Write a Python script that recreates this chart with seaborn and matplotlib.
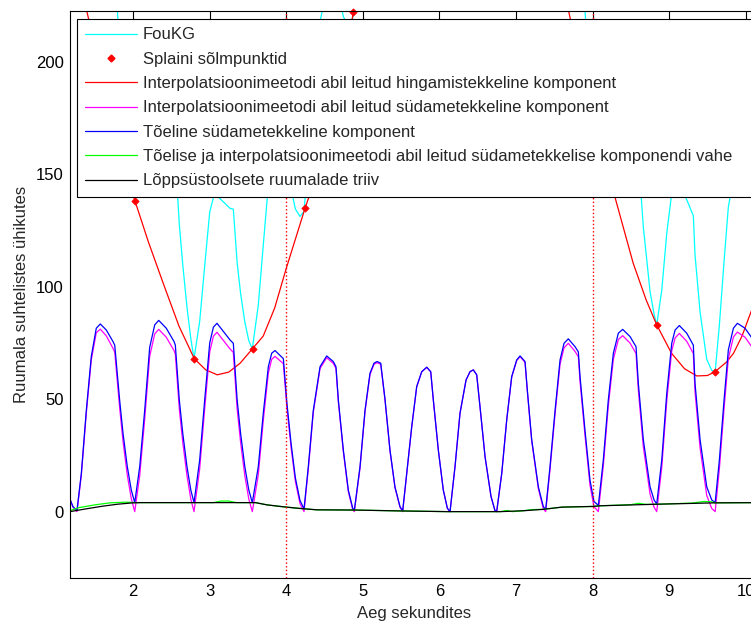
import matplotlib
matplotlib.use("Agg")
import matplotlib.pyplot as plt
from matplotlib.lines import Line2D
import seaborn as sns

# ---------------- data ----------------
t_heart = [1.178, 1.217, 1.269, 1.326, 1.391, 1.456, 1.521, 1.574, 1.652, 1.739,
           1.762, 1.826, 1.870, 1.926, 1.978, 2.023, 2.088, 2.153, 2.218, 2.284,
           2.336, 2.435, 2.536, 2.553, 2.605, 2.650, 2.705, 2.755, 2.797, 2.871,
           2.936, 3.002, 3.050, 3.097, 3.136, 3.267, 3.310, 3.360, 3.405, 3.460,
           3.512, 3.558, 3.636, 3.701, 3.767, 3.811, 3.854, 3.963, 4.010, 4.065,
           4.120, 4.180, 4.233, 4.289, 4.354, 4.442, 4.529, 4.615, 4.650, 4.681,
           4.746, 4.811, 4.869, 4.890, 4.964, 5.029, 5.094, 5.147, 5.186, 5.234,
           5.290, 5.355, 5.420, 5.486, 5.521, 5.574, 5.639, 5.704, 5.769, 5.835,
           5.887, 5.921, 5.986, 6.051, 6.104, 6.139, 6.204, 6.269, 6.348, 6.400,
           6.443, 6.487, 6.530, 6.596, 6.674, 6.726, 6.748, 6.814, 6.879, 6.944,
           7.009, 7.053, 7.118, 7.148, 7.205, 7.292, 7.357, 7.388, 7.444, 7.510,
           7.575, 7.627, 7.683, 7.771, 7.814, 7.836, 7.901, 7.966, 8.018, 8.075,
           8.140, 8.205, 8.271, 8.336, 8.393, 8.489, 8.567, 8.597, 8.662, 8.750,
           8.802, 8.837, 8.903, 8.968, 9.033, 9.077, 9.132, 9.229, 9.315, 9.337,
           9.403, 9.490, 9.555, 9.600, 9.655, 9.716, 9.772, 9.838, 9.890, 9.990,
           10.068, 10.12]

true_heart = [5.5, 2.2, 0.5, 17, 45, 69, 81.5, 83.4, 80.7, 75.6,
              74, 49.6, 34.8, 20, 9.6, 4, 20, 45, 73, 83,
              85, 81.5, 75.6, 74, 49.6, 34.8, 20, 9.6, 4, 23,
              49.6, 75, 82, 83.7, 82, 76.3, 74.8, 49.6, 34.8, 20,
              9.6, 4, 20, 43.7, 64.4, 70.4, 71.6, 68, 48, 30,
              15, 5, 1.2, 20, 45, 64.4, 69.2, 66.7, 64.4, 49.6,
              27.4, 9.6, 1.5, 0.7, 20, 45, 61.5, 66, 66.7, 66,
              50, 27.4, 11, 2.2, 0.4, 17, 37.8, 55.6, 62.2, 64.2,
              62.2, 49.6, 27.4, 9.6, 1.5, 0, 20, 43.7, 58.5, 62.2,
              63, 60.8, 46.7, 24.4, 6.7, 0.4, 0, 17, 40.8, 60,
              67.4, 69.2, 66.7, 54, 32, 11, 2.2, 1, 20, 45,
              67.4, 74.8, 76.8, 73.3, 71, 60, 36, 14, 4.5, 2.8,
              23, 49.6, 70.4, 79.3, 81, 77.8, 73.3, 57, 32, 11,
              5.2, 3.4, 23, 52.6, 74.8, 80.7, 82.7, 79.3, 74, 57,
              32, 11, 5.2, 4, 23, 49.6, 71.9, 81.5, 83.7, 81.5,
              77.8, 75]

interp_heart = [5.5, 2.0, 0, 16.2, 43.8, 67.4, 79.5, 81.1, 78.1, 72.6,
                70.9, 46.2, 31.2, 16.2, 5.8, 0, 16, 41, 69, 79,
                81, 77.5, 71.6, 70, 45.6, 30.8, 16, 5.6, 0, 19,
                45.6, 71, 78, 79.7, 78, 72.3, 70.8, 45.6, 30.8, 16,
                5.6, 0, 16.4, 40.4, 61.5, 67.7, 69, 65.8, 46, 28.2,
                13.4, 3.6, 0, 18.9, 44.1, 63.6, 68.4, 65.9, 63.6, 48.8,
                26.7, 8.9, 0.8, 0, 19.4, 44.4, 60.9, 65.5, 66.2, 65.5,
                49.6, 27, 10.7, 1.9, 0, 16.8, 37.6, 55.4, 62.1, 64.1,
                62.1, 49.5, 27.4, 9.6, 1.5, 0, 20, 43.7, 58.5, 62.2,
                63, 60.8, 46.7, 24.4, 6.7, 0.4, 0, 17, 40.8, 59.8,
                67.1, 68.9, 66.3, 53.5, 31.4, 10.2, 1.2, 0, 18.7, 43.4,
                65.5, 72.8, 74.8, 71.2, 68.8, 57.8, 33.8, 11.7, 2.2, 0,
                20.4, 46.9, 67.7, 76.5, 78.2, 74.9, 70.3, 54, 28.9, 7.8,
                2, 0, 19.7, 49.2, 71.4, 77.2, 79.2, 75.7, 70.3, 53.3,
                28.3, 7.2, 1.4, 0, 19.1, 45.7, 68, 77.6, 79.8, 77.5,
                73.8, 71]

t_fou = [1.178, 1.217, 1.269, 1.326, 1.391, 1.456, 1.521, 1.574, 1.652, 1.739,
         1.762, 1.826, 1.870, 1.926, 1.978, 2.023, 2.088, 2.153, 2.218, 2.284,
         2.336, 2.435, 2.536, 2.553, 2.605, 2.650, 2.705, 2.755, 2.797, 2.871,
         2.936, 3.002, 3.050, 3.097, 3.136, 3.267, 3.310, 3.360, 3.405, 3.460,
         3.512, 3.558, 3.636, 3.701, 3.767, 3.811, 3.854, 3.963, 4.010, 4.065,
         4.120, 4.180, 4.233, 4.289, 4.354, 4.442, 4.529, 4.615, 4.650, 4.681,
         4.746, 4.811, 4.869, 4.890, 4.964, 5.029, 5.186, 5.521, 5.835, 6.139,
         6.443, 6.748, 7.053, 7.388, 7.575, 7.683, 7.771, 7.814, 7.836, 7.901,
         7.966, 8.018, 8.075, 8.140, 8.205, 8.271, 8.336, 8.393, 8.489, 8.567,
         8.597, 8.662, 8.750, 8.802, 8.837, 8.903, 8.968, 9.033, 9.077, 9.132,
         9.229, 9.315, 9.337, 9.403, 9.490, 9.555, 9.600, 9.655, 9.716, 9.772,
         9.838, 9.890, 9.990, 10.068, 10.12]

fou = [265.5, 256, 245, 251, 267, 281, 284, 278, 263.6, 245.6,
       241, 207, 187, 165.7, 149.3, 138.5, 147.6, 165.9, 187.1, 190.7,
       188, 175.3, 160, 156.8, 127.7, 109.7, 90.9, 76.9, 68, 84.6,
       109.1, 133.2, 139.5, 140.5, 139.1, 134.8, 134.4, 110.6, 97, 84.3,
       76, 72.3, 91.8, 118.4, 145.1, 154.9, 159.8, 169.5, 155.1, 143.3,
       134.5, 131.2, 133.4, 158, 189.6, 217.8, 231.9, 239.7, 241.6, 231.5,
       220, 215.6, 219.5, 222.5, 257, 295, 348, 330, 421, 365,
       421, 340, 379, 268, 305, 298, 280, 271, 256.4, 222.3,
       191.7, 174.9, 165, 177.9, 196.8, 209.9, 210.8, 205.5, 190.4, 177.1,
       157.9, 126.6, 97.8, 87.8, 83, 98.4, 123.7, 141.6, 145.7, 145.5,
       138.6, 131.5, 114.1, 88.7, 67.7, 62.8, 62.2, 82.9, 111.2, 135.4,
       147.9, 153.7, 159.2, 162.6, 165]

t_resp = [1.178, 1.27, 1.40, 1.60, 1.80, 2.027, 2.20, 2.40, 2.60, 2.80,
          2.95, 3.10, 3.25, 3.40, 3.563, 3.70, 3.85, 4.00, 4.246, 4.50,
          4.65, 4.73, 4.876, 5.20, 5.52, 5.80, 6.14, 6.45, 6.75, 7.05,
          7.39, 7.69, 7.89, 8.075, 8.29, 8.53, 8.70, 8.837, 9.03, 9.20,
          9.36, 9.50, 9.598, 9.75, 9.84, 9.95, 10.07, 10.20]
resp = [260, 245, 222, 193, 164.5, 138, 120, 101, 82.5, 68,
        63, 60.8, 62, 66, 72.5, 78, 90.5, 108, 134.8, 160,
        178, 190, 222, 285, 330, 355, 365, 358, 340, 310,
        268, 222, 190, 165, 140, 110.4, 94, 83, 70.4, 63.5,
        60.3, 60.5, 62.2, 66.5, 70.4, 78, 89, 101]

knot_t = [1.27, 2.027, 2.80, 3.563, 4.246, 4.876, 5.52, 6.14, 6.75, 7.39, 8.075, 8.837, 9.598]
knot_v = [245, 138, 68, 72.5, 134.8, 222, 330, 365, 340, 268, 165, 83, 62.2]

t_diff = [1.178, 1.3, 1.5, 1.7, 1.9, 2.05, 2.8, 3.05, 3.15, 3.25, 3.35, 3.6, 3.75,
          3.95, 4.15, 4.4, 4.9, 5.5, 6.1, 6.8, 6.88, 6.95, 7.1, 7.2, 7.35, 7.6,
          8.0, 8.1, 8.5, 8.6, 8.7, 8.85, 9.3, 9.45, 9.55, 9.6, 10.2]
diff = [0.5, 1.8, 3.0, 3.9, 4.2, 4.0, 4.0, 4.0, 4.7, 4.7, 4.0, 4.0, 3.0,
        2.2, 1.5, 0.8, 0.7, 0.3, 0, 0, 0.5, 0, 0.4, 0.9, 1.0, 2.0,
        2.3, 2.6, 3.1, 3.7, 3.2, 3.3, 3.8, 4.5, 4.4, 3.9, 4.0]

t_drift = [1.178, 1.4, 1.6, 1.8, 2.0, 2.1, 3.6, 3.75, 3.95, 4.15, 4.4, 4.9,
           5.5, 6.1, 6.8, 7.1, 7.35, 7.6, 8.0, 8.1, 8.85, 9.6, 10.2]
drift = [0, 1.3, 2.4, 3.3, 3.9, 4, 4, 3, 2.2, 1.5, 0.8, 0.7,
         0.3, 0, 0, 0.4, 1, 2, 2.3, 2.6, 3.3, 3.9, 4]

marker_lines = [4, 8]
x_ticks = [2, 3, 4, 5, 6, 7, 8, 9, 10]
y_ticks = [0, 50, 100, 150, 200]

labels = ["FouKG",
          "Splaini sõlmpunktid",
          "Interpolatsioonimeetodi abil leitud hingamistekkeline komponent",
          "Interpolatsioonimeetodi abil leitud südametekkeline komponent",
          "Tõeline südametekkeline komponent",
          "Tõelise ja interpolatsioonimeetodi abil leitud südametekkelise komponendi vahe",
          "Lõppsüstoolsete ruumalade triiv"]
colors = ["#00ffff", "#ff0000", "#ff0000", "#ff00ff", "#0000ff", "#00ff00", "#000000"]

# ---------------- drawing ----------------
sns.set_style("white")
plt.rcParams["font.family"] = ["Liberation Sans", "DejaVu Sans"]
FS = 12
plt.rcParams["font.size"] = FS

W, H = 751, 625
fig = plt.figure(figsize=(W / 100, H / 100), dpi=100)
ax = fig.add_axes([70 / W, 47 / H, 687.3 / W, 567 / H])

LW = 0.9
sns.lineplot(x=t_fou, y=fou, ax=ax, color=colors[0], lw=LW, estimator=None, sort=False)
sns.scatterplot(x=knot_t, y=knot_v, ax=ax, color=colors[1], marker="D", s=14,
                edgecolor=colors[1], linewidth=0.5, clip_on=False, zorder=2.5)
sns.lineplot(x=t_resp, y=resp, ax=ax, color=colors[2], lw=LW, estimator=None, sort=False)
sns.lineplot(x=t_heart, y=interp_heart, ax=ax, color=colors[3], lw=LW, estimator=None, sort=False)
sns.lineplot(x=t_heart, y=true_heart, ax=ax, color=colors[4], lw=LW, estimator=None, sort=False)
sns.lineplot(x=t_diff, y=diff, ax=ax, color=colors[5], lw=LW, estimator=None, sort=False)
sns.lineplot(x=t_drift, y=drift, ax=ax, color=colors[6], lw=LW, estimator=None, sort=False)
for xv in marker_lines:
    ax.axvline(xv, color="#ff0000", ls=":", lw=1.0)

ax.set_xlim(1.178, 10.15)
ax.set_ylim(-29.5, 222.5)
ax.set_xticks(x_ticks)
ax.set_yticks(y_ticks)
ax.tick_params(direction="in", length=5.5, width=0.8, top=True, right=False,
               labelsize=FS, colors="black")
ax.tick_params(axis="x", pad=4.5)
ax.tick_params(axis="y", pad=4.5)
for s in ax.spines.values():
    s.set_color("black")
    s.set_linewidth(0.8)
ax.set_xlabel("Aeg sekundites", fontsize=FS, labelpad=5)
ax.set_ylabel("Ruumala suhtelistes ühikutes", fontsize=FS, labelpad=5)

handles = [Line2D([], [], color=colors[0], lw=LW),
           Line2D([], [], color=colors[1], ls="none", marker="D", ms=3.5),
           Line2D([], [], color=colors[2], lw=LW),
           Line2D([], [], color=colors[3], lw=LW),
           Line2D([], [], color=colors[4], lw=LW),
           Line2D([], [], color=colors[5], lw=LW),
           Line2D([], [], color=colors[6], lw=LW)]
leg = ax.legend(handles, labels, loc="upper left", mode="expand",
                bbox_to_anchor=(77 / W, 1 - 19 / H, (760 - 77) / W, 0),
                bbox_transform=fig.transFigure,
                borderaxespad=0, fontsize=FS, handlelength=3.1, handletextpad=0.35,
                labelspacing=0.56, borderpad=0.5, numpoints=1, fancybox=False,
                framealpha=1, edgecolor="black")
leg.get_frame().set_linewidth(0.8)

fig.savefig("out.png", dpi=100)
